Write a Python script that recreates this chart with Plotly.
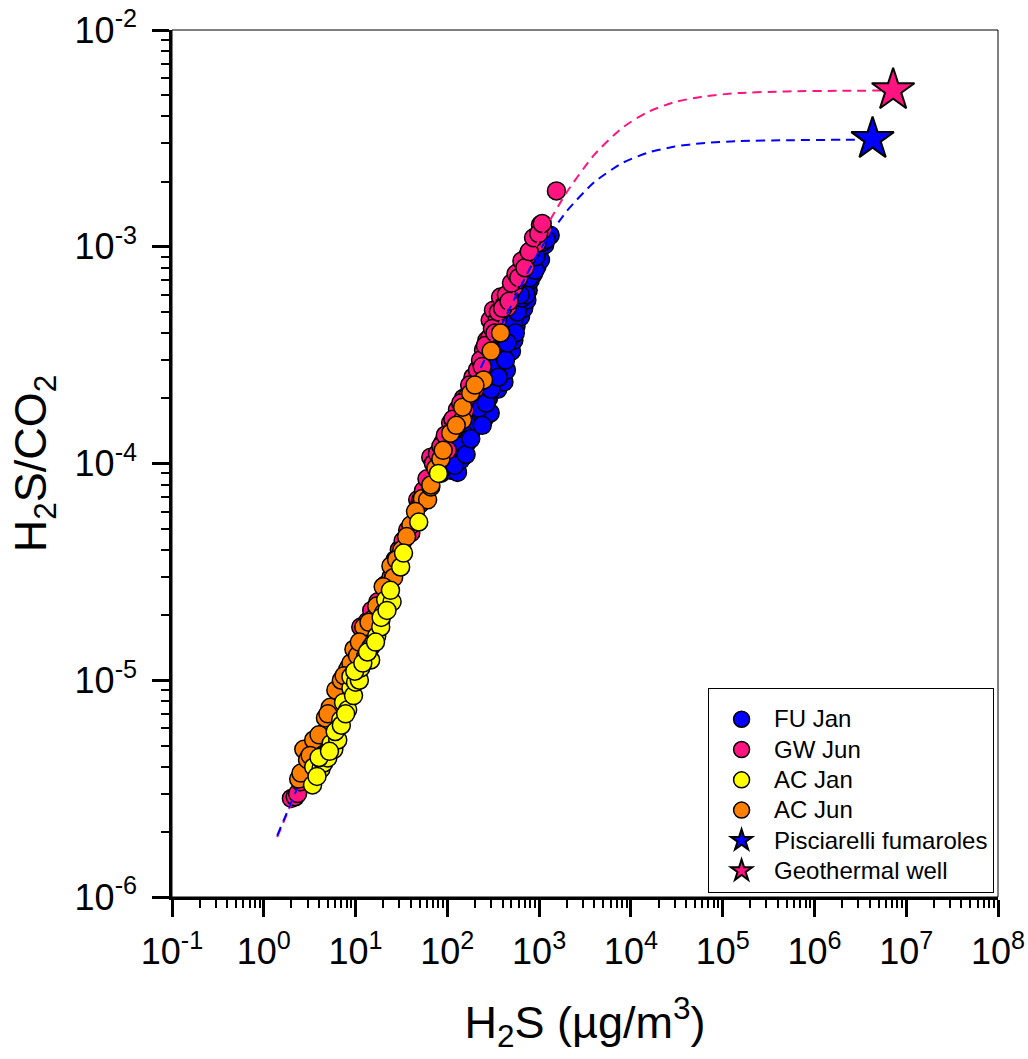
import plotly.graph_objects as go

# ---- H2S concentration (µg/m3) and H2S/CO2 ratio per survey ----
fu_jan_x = [85, 91, 100, 109, 118, 129, 140, 150, 150, 165, 170, 190, 200, 213, 230, 250,
            250, 274, 281, 293, 318, 330, 354, 380, 380, 414, 414, 440, 460, 484, 500, 530,
            560, 600, 627, 680, 735, 760, 800, 870, 947, 1000, 1035, 1150, 1320,
            105, 120, 135, 160, 180, 220, 240, 265, 300, 340, 360, 400, 430, 470, 520, 550,
            580, 650, 700, 720, 780, 850, 900, 920, 1100, 1200, 620, 450]
fu_jan_y = [9.0e-5, 9.3e-5, 9.6e-5, 9.3e-5, 1.05e-4, 9.1e-5, 1.04e-4, 1.15e-4, 1.38e-4, 1.25e-4,
            1.35e-4, 1.45e-4, 1.7e-4, 1.54e-4, 1.71e-4, 1.6e-4, 2.1e-4, 1.68e-4, 2.0e-4, 1.71e-4,
            2.43e-4, 2.6e-4, 2.2e-4, 3.34e-4, 3.1e-4, 2.38e-4, 2.9e-4, 2.7e-4, 3.5e-4, 3.84e-4,
            3.3e-4, 3.7e-4, 4.3e-4, 5.3e-4, 4.75e-4, 5.2e-4, 5.68e-4, 6.3e-4, 7.0e-4, 7.5e-4,
            8.1e-4, 9.6e-4, 8.7e-4, 1.02e-3, 1.13e-3,
            1.1e-4, 9.8e-5, 1.2e-4, 1.1e-4, 1.3e-4, 1.8e-4, 1.5e-4, 1.9e-4, 2.2e-4, 2.8e-4,
            2.5e-4, 3.2e-4, 3.0e-4, 4.0e-4, 4.5e-4, 4.0e-4, 5.0e-4, 5.8e-4, 6.5e-4, 6.0e-4,
            7.2e-4, 8.3e-4, 7.8e-4, 9.0e-4, 1.05e-3, 1.08e-3, 6.0e-4, 3.6e-4]

gw_jun_x = [2.0, 2.2, 2.34, 2.5, 3.0, 4.0, 5.5, 7.5, 10, 11.4, 13.5, 17.5, 21, 24.3, 30, 37,
            40, 47.6, 55, 66, 70.5, 78, 90, 108.6, 129, 150, 165, 190, 213, 248, 270, 293,
            293, 318, 350, 380, 420, 453, 484, 530, 580, 627, 680, 735, 820, 947, 1035, 1100,
            1545,
            85, 95, 100, 115, 120, 140, 155, 175, 200, 230, 240, 260, 310, 330, 360, 400, 440,
            470, 500, 560, 600, 650, 700, 780, 870, 990, 1080, 60, 50, 27, 33, 15, 8.5, 6.5,
            3.5]
gw_jun_y = [2.85e-6, 2.9e-6, 3.0e-6, 3.4e-6, 3.9e-6, 5.3e-6, 7.3e-6, 1.0e-5, 1.35e-5, 1.76e-5,
            1.87e-5, 2.3e-5, 2.75e-5, 2.99e-5, 4.0e-5, 4.93e-5, 4.78e-5, 6.8e-5, 7.5e-5, 1.07e-4,
            1.0e-4, 1.11e-4, 1.25e-4, 1.54e-4, 1.77e-4, 2.0e-4, 2.03e-4, 2.5e-4, 2.7e-4, 3.34e-4,
            3.7e-4, 3.84e-4, 4.59e-4, 5.1e-4, 4.6e-4, 5.86e-4, 5.4e-4, 5.27e-4, 6.12e-4, 6.5e-4,
            7.0e-4, 7.82e-4, 8.2e-4, 8.97e-4, 9.6e-4, 1.04e-3, 1.26e-3, 1.2e-3, 1.81e-3,
            1.2e-4, 1.35e-4, 1.15e-4, 1.6e-4, 1.45e-4, 1.9e-4, 1.75e-4, 2.3e-4, 2.2e-4, 3.0e-4,
            2.8e-4, 3.5e-4, 4.2e-4, 4.0e-4, 5.0e-4, 5.2e-4, 6.0e-4, 5.6e-4, 6.8e-4, 7.5e-4,
            7.2e-4, 8.6e-4, 8.0e-4, 9.5e-4, 1.1e-3, 1.15e-3, 1.28e-3, 8.5e-5, 6.5e-5, 3.6e-5,
            4.4e-5, 2.1e-5, 1.15e-5, 8.8e-6, 4.6e-6]

ac_jun_x = [2.4, 2.54, 2.73, 3.0, 3.5, 4.0, 4.7, 5.3, 6.1, 7.0, 8.2, 8.9, 9.6, 10.5, 12.3, 12.3,
            15, 18.8, 22, 24.3, 26, 32, 40, 51.5, 53.5, 61, 66, 66, 108.6, 146.6, 147, 179.6,
            248, 380,
            3.2, 5.0, 7.5, 11, 14, 17, 20, 28, 36, 45, 75, 85, 90, 125, 200, 300]
ac_jun_y = [3.5e-6, 3.73e-6, 4.8e-6, 4.3e-6, 5.3e-6, 5.6e-6, 6.7e-6, 7.5e-6, 9.0e-6, 1.0e-5,
            1.12e-5, 1.2e-5, 1.39e-5, 1.3e-5, 1.49e-5, 1.76e-5, 1.9e-5, 1.88e-5, 2.6e-5, 3.37e-5,
            2.98e-5, 4.0e-5, 5.2e-5, 6.8e-5, 6.9e-5, 6.8e-5, 7.8e-5, 7.96e-5, 1.38e-4, 1.59e-4,
            1.82e-4, 2.11e-4, 2.43e-4, 4.0e-4,
            4.5e-6, 7.0e-6, 1.05e-5, 1.5e-5, 1.85e-5, 2.2e-5, 2.7e-5, 3.6e-5, 4.6e-5, 6.0e-5,
            9.5e-5, 1.05e-4, 1.15e-4, 1.5e-4, 2.3e-4, 3.3e-4]

ac_jan_x = [3.4, 3.5, 4.2, 4.5, 4.98, 5.4, 5.8, 6.4, 6.9, 7.4, 8.2, 8.9, 8.9, 9.5, 10, 11,
            11.4, 12.9, 14.6, 14.6, 15.8, 17, 18.8, 20.3, 21.3, 25, 31, 33.3, 48.8, 80,
            3.8, 4.0, 5.2, 6.0, 7.0, 7.8, 9.8, 12, 13.5, 16.5, 19, 22, 24]
ac_jan_y = [3.29e-6, 3.98e-6, 3.9e-6, 4.15e-6, 4.38e-6, 5.1e-6, 4.8e-6, 5.3e-6, 6.56e-6, 7.9e-6,
            7.3e-6, 9.2e-6, 1.04e-5, 8.5e-6, 9.8e-6, 1.0e-5, 1.14e-5, 1.29e-5, 1.42e-5, 1.24e-5,
            1.49e-5, 1.6e-5, 1.76e-5, 2.05e-5, 2.35e-5, 2.3e-5, 3.33e-5, 3.86e-5, 5.37e-5, 9.0e-5,
            3.6e-6, 4.4e-6, 4.7e-6, 5.8e-6, 6.2e-6, 7.0e-6, 1.1e-5, 1.2e-5, 1.35e-5, 1.5e-5,
            1.95e-5, 2.1e-5, 2.6e-5]

# ---- end-members ----
fumarole_x = [4.3e6]
fumarole_y = [3.14e-3]
well_x = [7.2e6]
well_y = [5.28e-3]

# ---- air / end-member mixing curves ----
mix_fu_x = [1.4, 10, 100, 1000, 2000, 4000, 8000, 15000, 30000, 60000, 1.5e5, 5e5, 2e6, 4.3e6]
mix_fu_y = [1.92e-6, 1.364e-5, 1.312e-4, 9.52e-4, 1.459e-3, 1.988e-3, 2.43e-3, 2.71e-3, 2.90e-3,
            3.006e-3, 3.072e-3, 3.10e-3, 3.115e-3, 3.12e-3]
mix_gw_x = [1.4, 10, 100, 1000, 2000, 4000, 8000, 15000, 30000, 60000, 1.5e5, 5e5, 2e6, 7.2e6]
mix_gw_y = [1.89e-6, 1.348e-5, 1.317e-4, 1.075e-3, 1.784e-3, 2.66e-3, 3.53e-3, 4.17e-3, 4.65e-3,
            4.93e-3, 5.12e-3, 5.21e-3, 5.24e-3, 5.26e-3]

# ---- axis ticks ----
x_tick_vals = [1e-1, 1e0, 1e1, 1e2, 1e3, 1e4, 1e5, 1e6, 1e7, 1e8]
x_tick_text = ["10<sup>-1</sup>", "10<sup>0</sup>", "10<sup>1</sup>", "10<sup>2</sup>",
               "10<sup>3</sup>", "10<sup>4</sup>", "10<sup>5</sup>", "10<sup>6</sup>",
               "10<sup>7</sup>", "10<sup>8</sup>"]
y_tick_vals = [1e-6, 1e-5, 1e-4, 1e-3, 1e-2]
y_tick_text = ["10<sup>-6</sup>", "10<sup>-5</sup>", "10<sup>-4</sup>", "10<sup>-3</sup>",
               "10<sup>-2</sup>"]

BLUE = "#0000FF"
PINK = "#FF1480"
YELLOW = "#FFFF00"
ORANGE = "#FF8000"
FONT = "Arial, 'Liberation Sans', sans-serif"


def entry(label):
    # legend rows stay compact while the label itself is set a little larger
    return f'<span style="font-size:24px">{label}</span>'


def circles(x, y, color, name, rank):
    return go.Scatter(
        x=x, y=y, mode="markers", name=entry(name), legendrank=rank,
        marker=dict(symbol="circle", size=18, color=color,
                    line=dict(color="black", width=1.5)),
    )


def mixing(x, y, color):
    return go.Scatter(
        x=x, y=y, mode="lines", showlegend=False, hoverinfo="skip",
        line=dict(color=color, width=2, dash="9px,6px", shape="spline", smoothing=0.6),
    )


fig = go.Figure()
fig.add_trace(circles(fu_jan_x, fu_jan_y, BLUE, "FU Jan", 1))
fig.add_trace(circles(gw_jun_x, gw_jun_y, PINK, "GW Jun", 2))
fig.add_trace(mixing(mix_gw_x, mix_gw_y, PINK))
fig.add_trace(mixing(mix_fu_x, mix_fu_y, BLUE))
fig.add_trace(circles(ac_jun_x, ac_jun_y, ORANGE, "AC Jun", 4))
fig.add_trace(circles(ac_jan_x, ac_jan_y, YELLOW, "AC Jan", 3))
fig.add_trace(go.Scatter(
    x=fumarole_x, y=fumarole_y, mode="markers", name=entry("Pisciarelli fumaroles"),
    legendrank=5,
    marker=dict(symbol="star", size=32, color=BLUE, line=dict(color="black", width=2)),
))
fig.add_trace(go.Scatter(
    x=well_x, y=well_y, mode="markers", name=entry("Geothermal well"), legendrank=6,
    marker=dict(symbol="star", size=32, color=PINK, line=dict(color="black", width=2)),
))

axis_common = dict(
    type="log", showgrid=False, zeroline=False, showline=True, linecolor="black",
    linewidth=2.5, ticks="outside", ticklen=17, tickwidth=2.5, tickcolor="black",
    tickmode="array", automargin=False,
    tickfont=dict(family=FONT, size=36, color="black"),
    minor=dict(ticks="outside", ticklen=8, tickwidth=2, tickcolor="black",
               dtick="D1", showgrid=False),
)

fig.update_xaxes(
    **axis_common, range=[-1, 8], tickvals=x_tick_vals, ticktext=x_tick_text,
    ticklabelstandoff=4,
    title=dict(text="H<sub>2</sub>S (µg/m<sup>3</sup>)",
               font=dict(family=FONT, size=45, color="black"), standoff=36),
)
fig.update_yaxes(
    **axis_common, range=[-6, -2], tickvals=y_tick_vals, ticktext=y_tick_text,
    ticklabelstandoff=8,
    title=dict(text="H<sub>2</sub>S/CO<sub>2</sub>",
               font=dict(family=FONT, size=45, color="black"), standoff=14),
)

# thin frame on top and right
fig.add_shape(type="rect", xref="paper", yref="paper", x0=0, y0=0, x1=1, y1=1,
              line=dict(color="black", width=1), layer="above")

fig.update_layout(
    width=1028, height=1059,
    margin=dict(l=172, r=30, t=30, b=162),
    paper_bgcolor="white", plot_bgcolor="white",
    font=dict(family=FONT, color="black"),
    legend=dict(
        x=0.649, y=0.005, xanchor="left", yanchor="bottom",
        bgcolor="white", bordercolor="black", borderwidth=1,
        font=dict(family=FONT, size=21, color="black"),
        itemsizing="trace", itemwidth=55, tracegroupgap=0,
        title=dict(text=" ", font=dict(size=8)),
    ),
)

fig.write_html("out.html")
